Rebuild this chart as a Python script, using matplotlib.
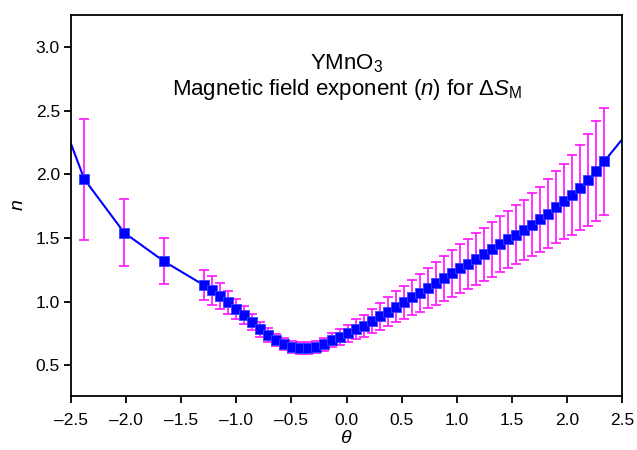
import numpy as np
import matplotlib
matplotlib.use("Agg")
import matplotlib.pyplot as plt

# Fonts: Helvetica-like look
plt.rcParams["font.family"] = ["Liberation Sans", "DejaVu Sans"]
plt.rcParams["mathtext.fontset"] = "custom"
plt.rcParams["mathtext.rm"] = "Liberation Sans"
plt.rcParams["mathtext.it"] = "Liberation Sans:italic"

# Data
theta = [-2.380, -2.017, -1.655,
         -1.295, -1.222, -1.150, -1.077, -1.004, -0.932, -0.859, -0.786,
         -0.714, -0.641, -0.568, -0.496, -0.423, -0.350, -0.278, -0.205,
         -0.132, -0.060, 0.013, 0.086, 0.158, 0.231, 0.304, 0.376,
         0.449, 0.522, 0.594, 0.667, 0.740, 0.812, 0.885, 0.958,
         1.030, 1.103, 1.176, 1.248, 1.321, 1.394, 1.466, 1.539,
         1.612, 1.684, 1.757, 1.830, 1.902, 1.975, 2.048, 2.120,
         2.193, 2.266, 2.338]
n_exp = [1.962, 1.541, 1.316,
         1.130, 1.088, 1.044, 0.995, 0.944, 0.895, 0.840, 0.785,
         0.738, 0.699, 0.665, 0.646, 0.638, 0.638, 0.646, 0.667,
         0.699, 0.722, 0.752, 0.783, 0.812, 0.850, 0.884, 0.922,
         0.960, 0.995, 1.033, 1.070, 1.108, 1.146, 1.184, 1.222,
         1.261, 1.297, 1.337, 1.374, 1.410, 1.450, 1.489, 1.525,
         1.564, 1.604, 1.646, 1.690, 1.740, 1.787, 1.837, 1.894,
         1.957, 2.027, 2.101]
n_err = [0.475, 0.263, 0.180,
         0.120, 0.111, 0.100, 0.089, 0.081, 0.072, 0.065, 0.059,
         0.053, 0.050, 0.047, 0.045, 0.045, 0.046, 0.048, 0.052,
         0.057, 0.063, 0.069, 0.078, 0.087, 0.096, 0.105, 0.114,
         0.123, 0.132, 0.141, 0.150, 0.159, 0.168, 0.178, 0.187,
         0.194, 0.197, 0.203, 0.208, 0.215, 0.220, 0.226, 0.232,
         0.238, 0.249, 0.258, 0.270, 0.283, 0.297, 0.313, 0.334,
         0.361, 0.390, 0.419]

# points just outside the plotted window (line runs off both edges)
theta_left, n_left = [-2.740], [2.790]
theta_right, n_right = [2.620], [2.400]

BLUE = "#0000ff"
MAGENTA = "#ff22ff"

fig = plt.figure(figsize=(6.37, 4.5), dpi=100)
ax = fig.add_axes([0.1115, 0.12, 0.865, 0.8467])

line_x = theta_left + theta + theta_right
line_y = n_left + n_exp + n_right
ax.plot(line_x, line_y, color=BLUE, lw=1.5, zorder=2)

ax.errorbar(theta, n_exp, yerr=n_err, fmt="none", ecolor=MAGENTA,
            elinewidth=1.3, capsize=3.4, capthick=1.3, zorder=1)
ax.plot(theta, n_exp, ls="none", marker="s", ms=6.5, mfc=BLUE,
        mec="#3344ff", mew=0.6, zorder=3)

ax.set_xlim(-2.5, 2.5)
ax.set_ylim(0.26, 3.25)
xt = np.arange(-2.5, 2.51, 0.5)
yt = np.arange(0.5, 3.01, 0.5)
ax.set_xticks(xt)
ax.set_yticks(yt)
ax.set_xticklabels([f"{v:.1f}".replace("-", "\u2013") for v in xt])
ax.set_yticklabels([f"{v:.1f}" for v in yt])

ax.tick_params(direction="out", length=5, width=1.3, labelsize=12.5,
               top=False, right=False)
ax.tick_params(axis="x", pad=7)
ax.tick_params(axis="y", pad=3)
for sp in ax.spines.values():
    sp.set_linewidth(1.3)

ax.set_xlabel(r"$\theta$", fontsize=14, labelpad=2)
ax.set_ylabel(r"$n$", fontsize=14, labelpad=6)

ax.text(0.5, 0.858, r"YMnO$_3$", transform=ax.transAxes,
        ha="center", va="baseline", fontsize=16)
ax.text(0.5, 0.79, r"Magnetic field exponent ($n$) for $\Delta S_\mathrm{M}$",
        transform=ax.transAxes, ha="center", va="baseline", fontsize=16)

fig.savefig("out.png", dpi=100)
